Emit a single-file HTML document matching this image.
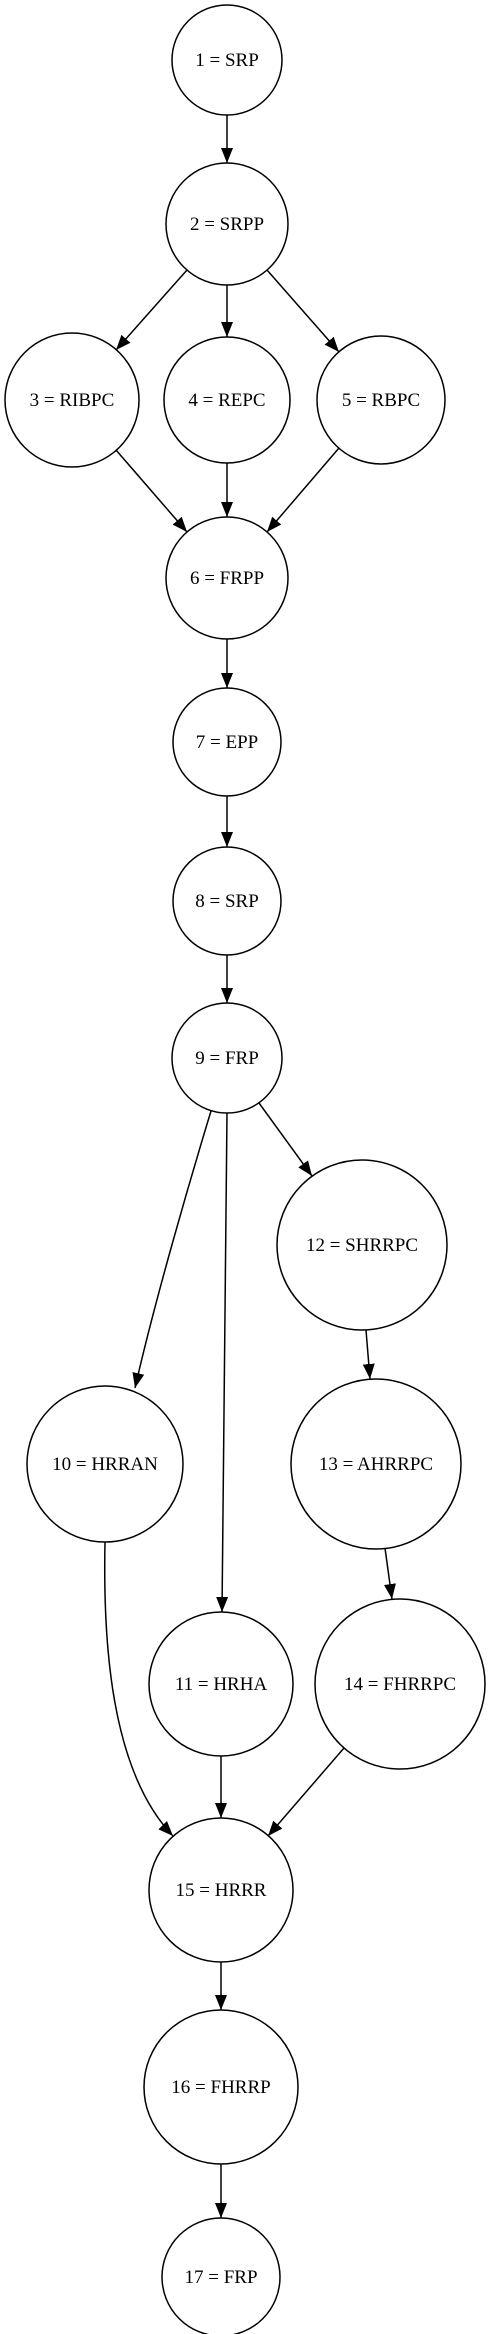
<!DOCTYPE html>
<html><head><meta charset="utf-8"><style>
html,body{margin:0;padding:0;background:#fff;}
svg{display:block;}
text{font-family:"Liberation Serif",serif;font-size:19px;fill:#000;}
</style></head><body>
<svg width="493" height="2334" viewBox="0 0 493 2334" xmlns="http://www.w3.org/2000/svg">
<defs>
<marker id="a" markerUnits="userSpaceOnUse" markerWidth="16" markerHeight="12" refX="15" refY="6" orient="auto">
<path d="M0,0 L15,6 L0,12 z" fill="#000"/>
</marker>
</defs>
<g fill="none" stroke="#000" stroke-width="1.5">
<circle cx="227" cy="60" r="55"/>
<circle cx="227" cy="224" r="61"/>
<circle cx="72" cy="400" r="67"/>
<circle cx="227" cy="400" r="63"/>
<circle cx="381" cy="400" r="64"/>
<circle cx="227" cy="578" r="61"/>
<circle cx="227" cy="742" r="54"/>
<circle cx="227" cy="901" r="54"/>
<circle cx="227" cy="1058" r="55"/>
<circle cx="362" cy="1245" r="85"/>
<circle cx="105" cy="1464" r="78"/>
<circle cx="376" cy="1464" r="85"/>
<circle cx="221" cy="1684" r="72"/>
<circle cx="400" cy="1684" r="85"/>
<circle cx="221" cy="1890" r="72"/>
<circle cx="221" cy="2087" r="77"/>
<circle cx="221" cy="2277" r="59"/>
</g>
<g fill="none" stroke="#000" stroke-width="1.5" marker-end="url(#a)">
<line x1="227" y1="115" x2="227" y2="163"/>
<line x1="187" y1="270" x2="116" y2="350"/>
<line x1="227" y1="285" x2="227" y2="337"/>
<line x1="267" y1="270" x2="339" y2="352"/>
<line x1="116" y1="450" x2="187" y2="532"/>
<line x1="227" y1="463" x2="227" y2="517"/>
<line x1="339" y1="448" x2="267" y2="532"/>
<line x1="227" y1="639" x2="227" y2="688"/>
<line x1="227" y1="796" x2="227" y2="847"/>
<line x1="227" y1="955" x2="227" y2="1003"/>
<line x1="259" y1="1103" x2="312" y2="1176"/>
<line x1="366" y1="1330" x2="370" y2="1379"/>
<line x1="385" y1="1548" x2="392" y2="1599"/>
<path d="M211,1111 C190,1180 155,1300 135,1388"/>
<line x1="227" y1="1113" x2="222" y2="1612"/>
<line x1="221" y1="1756" x2="221" y2="1818"/>
<line x1="344" y1="1748" x2="268" y2="1836"/>
<path d="M105,1542 C103,1640 110,1770 173,1836"/>
<line x1="221" y1="1962" x2="221" y2="2010"/>
<line x1="221" y1="2164" x2="221" y2="2218"/>
</g>
<g text-anchor="middle">
<text x="227" y="66">1 = SRP</text>
<text x="227" y="230">2 = SRPP</text>
<text x="72" y="406">3 = RIBPC</text>
<text x="227" y="406">4 = REPC</text>
<text x="381" y="406">5 = RBPC</text>
<text x="227" y="584">6 = FRPP</text>
<text x="227" y="748">7 = EPP</text>
<text x="227" y="907">8 = SRP</text>
<text x="227" y="1064">9 = FRP</text>
<text x="362" y="1251">12 = SHRRPC</text>
<text x="105" y="1470">10 = HRRAN</text>
<text x="376" y="1470">13 = AHRRPC</text>
<text x="221" y="1690">11 = HRHA</text>
<text x="400" y="1690">14 = FHRRPC</text>
<text x="221" y="1896">15 = HRRR</text>
<text x="221" y="2093">16 = FHRRP</text>
<text x="221" y="2283">17 = FRP</text>
</g>
</svg>
</body></html>
